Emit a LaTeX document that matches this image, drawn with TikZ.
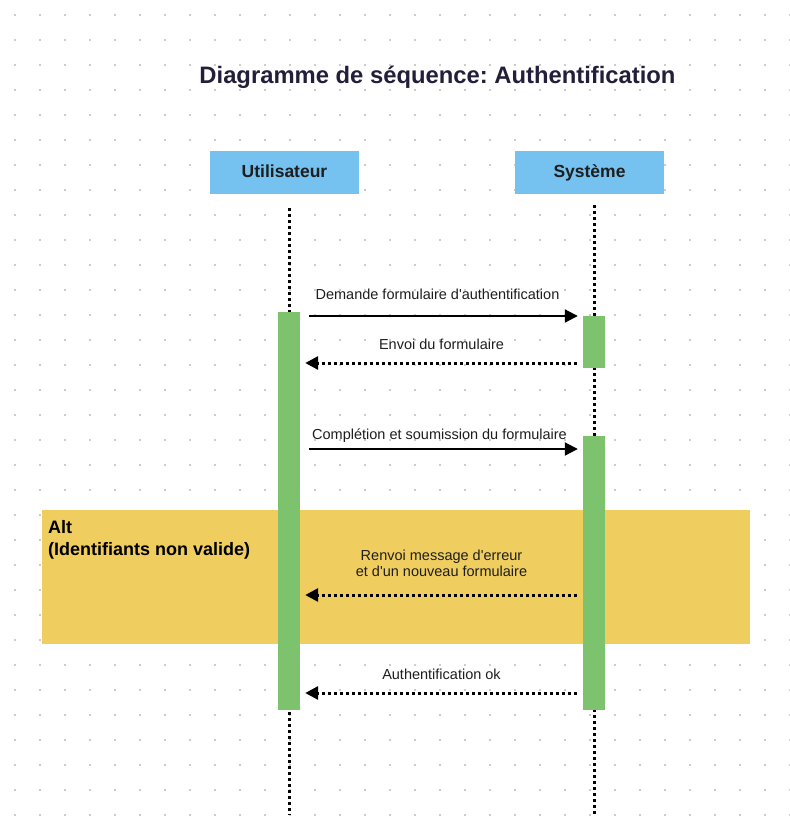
\documentclass[tikz,border=0pt]{standalone}
\usepackage{fontspec}
\setmainfont{Liberation Sans}
\frenchspacing
\usetikzlibrary{positioning,arrows.meta,calc}
\definecolor{sqBlue}{HTML}{75C2F0}
\definecolor{sqGreen}{HTML}{7DC36E}
\definecolor{sqAmber}{HTML}{EFCD5F}
\definecolor{sqInk}{HTML}{1E1E1E}
\definecolor{sqTitle}{HTML}{231F3A}
\definecolor{sqDot}{HTML}{CCCCCC}
\tikzset{
  sq-actor/.style={
    fill=sqBlue, draw=none, font=\fontsize{17.5}{20}\selectfont\bfseries,
    text=sqInk, minimum width=149pt, minimum height=43pt, inner sep=0pt,
    text height=12.5pt, text depth=3.5pt
  },
  sq-bar/.style={fill=sqGreen, draw=none, minimum width=22pt, inner sep=0pt},
  sq-alt/.style={fill=sqAmber, draw=none, minimum width=708pt,
    minimum height=134pt, inner sep=0pt},
  sq-life/.style={line width=3pt, dash pattern=on 3pt off 3pt, draw=black},
  sq-call/.style={-{Triangle[length=13pt,width=13pt]}, line width=2pt,
    draw=black, shorten <=9pt, shorten >=5pt},
  sq-reply/.style={-{Triangle[length=13pt,width=13pt]}, line width=3pt,
    dash pattern=on 3pt off 3pt, draw=black, shorten <=6pt, shorten >=5pt},
  sq-label/.style={font=\fontsize{14.5}{16}\selectfont, text=sqInk,
    align=center, midway, inner sep=0pt},
  sq-title/.style={font=\fontsize{23.8}{28}\selectfont\bfseries, text=sqTitle}
}
\begin{document}
\begin{tikzpicture}[x=1pt, y=-1pt]
\useasboundingbox (0,0) rectangle (790,833);
% dot grid
\foreach \gx in {15,40,...,790}
  \foreach \gy in {15,40,...,833}
    \fill[sqDot] (\gx-1,\gy-1) rectangle ++(2,2);

\node[sq-title] (title) at (437.5,77) {Diagramme de séquence: Authentification};

\node[sq-actor] (user) at (284.5,172.5) {Utilisateur};
\node[sq-actor] (sys) at (589.5,172.5) {Système};

% alt fragment
\node[sq-alt] (alt) at (396,577) {};
\node[font=\fontsize{18}{22}\selectfont\bfseries, text=black, align=left,
  anchor=north west, inner sep=0pt] (altlbl) at (48,520)
  {Alt\\(Identifiants non valide)};

% lifelines
\coordinate (userTop) at (289,208);
\coordinate (userEnd) at (289,815);
\coordinate (sysTop) at (594,205);
\coordinate (sysEnd) at (594,815);
\draw[sq-life] (userTop) -- (userEnd);
\draw[sq-life] (sysTop) -- (sysEnd);

% activations
\node[sq-bar, minimum height=398pt] (uact) at (289,511) {};
\node[sq-bar, minimum height=52pt] (sact1) at (594,342) {};
\node[sq-bar, minimum height=274pt] (sact2) at (594,573) {};

% messages
\coordinate (m1) at (0,316);
\coordinate (m2) at (0,363);
\coordinate (m3) at (0,449);
\coordinate (m4) at (0,595);
\coordinate (m5) at (0,693);
\draw[sq-call] (uact.east |- m1) -- (sact1.west |- m1)
  node[sq-label, yshift=22pt, xshift=-4pt] {Demande formulaire d\textquotesingle authentification};
\draw[sq-reply] (sact1.west |- m2) -- (uact.east |- m2)
  node[sq-label, yshift=19pt] {Envoi du formulaire};
\draw[sq-call] (uact.east |- m3) -- (sact2.west |- m3)
  node[sq-label, yshift=13pt, xshift=-2pt] {Complétion et soumission du formulaire};
\draw[sq-reply] (sact2.west |- m4) -- (uact.east |- m4)
  node[sq-label, yshift=32pt] {Renvoi message d\textquotesingle erreur\\et d\textquotesingle un nouveau formulaire};
\draw[sq-reply] (sact2.west |- m5) -- (uact.east |- m5)
  node[sq-label, yshift=19pt] {Authentification ok};
\end{tikzpicture}
\end{document}
